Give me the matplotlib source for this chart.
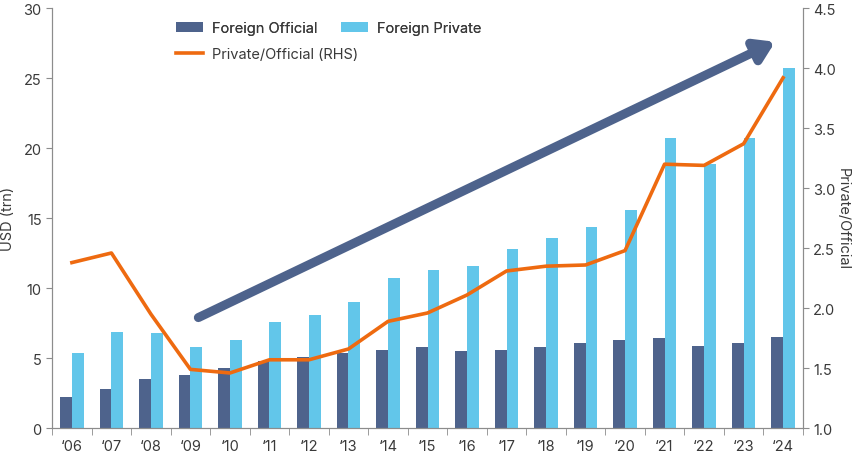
import numpy as np
import matplotlib
matplotlib.use("Agg")
import matplotlib.pyplot as plt

plt.rcParams["font.family"] = ["Inter", "DejaVu Sans"]

years = ["‘06", "‘07", "‘08", "‘09", "‘10", "‘11", "‘12", "‘13", "‘14", "‘15",
         "‘16", "‘17", "‘18", "‘19", "‘20", "‘21", "‘22", "‘23", "‘24"]
official = [2.2, 2.8, 3.5, 3.8, 4.3, 4.8, 5.1, 5.4, 5.6, 5.8,
            5.5, 5.6, 5.8, 6.1, 6.3, 6.45, 5.9, 6.1, 6.5]
private = [5.4, 6.9, 6.8, 5.8, 6.3, 7.6, 8.1, 9.0, 10.7, 11.3,
           11.6, 12.8, 13.6, 14.4, 15.6, 20.7, 18.9, 20.7, 25.7]
ratio = [2.38, 2.46, 1.95, 1.49, 1.46, 1.57, 1.57, 1.66, 1.89, 1.96,
         2.11, 2.31, 2.35, 2.36, 2.48, 3.20, 3.19, 3.37, 3.92]

c_off = "#4E638C"
c_priv = "#62C6EA"
c_line = "#EE6A10"
c_axis = "#8C8C8C"
c_text = "#3A3A3A"

fig = plt.figure(figsize=(8.55, 4.6), dpi=100)
ax = fig.add_axes([0.061, 0.067, 0.878, 0.913])
ax2 = ax.twinx()

x = np.arange(len(years))
w = 0.3
b1 = ax.bar(x - w / 2, official, w, color=c_off, label="Foreign Official", zorder=2)
b2 = ax.bar(x + w / 2, private, w, color=c_priv, label="Foreign Private", zorder=2)
l1, = ax2.plot(x, ratio, color=c_line, lw=2.6, label="Private/Official (RHS)", zorder=3)

ax.set_xlim(-0.5, len(years) - 0.5)
ax.set_ylim(0, 30)
ax.set_yticks(np.arange(0, 31, 5))
ax2.set_ylim(1.0, 4.5)
ax2.set_yticks(np.arange(1.0, 4.51, 0.5))
ax2.set_yticklabels([f"{v:.1f}" for v in np.arange(1.0, 4.51, 0.5)])

ax.set_xticks(x)
ax.set_xticklabels(years)
ax.set_xticks(np.arange(-0.5, len(years), 1.0), minor=True)
ax.tick_params(axis="x", which="major", length=0, pad=8, labelsize=10.5, colors=c_text)
ax.tick_params(axis="x", which="minor", length=5, color=c_axis)
ax.tick_params(axis="y", length=4, color=c_axis, labelsize=10.5, labelcolor=c_text)
ax2.tick_params(axis="y", length=4, color=c_axis, labelsize=10.5, labelcolor=c_text)

for a in (ax, ax2):
    a.spines["top"].set_visible(False)
    for s in ("left", "right", "bottom"):
        a.spines[s].set_color(c_axis)

ax.set_ylabel("USD (trn)", fontsize=10.5, color=c_text, labelpad=6)
ax2.set_ylabel("Private/Official", fontsize=10.5, color=c_text, rotation=270, va="center")
ax2.yaxis.set_label_coords(1.053, 0.5)

# trend arrow
ax.annotate("", xy=(17.8, 27.6), xytext=(3.2, 7.9), zorder=4,
            arrowprops=dict(arrowstyle="-|>,head_length=1.1,head_width=0.7",
                            color=c_off, lw=6.5, shrinkA=0, shrinkB=0))

common = dict(frameon=False, fontsize=10.5, handlelength=1.85, handleheight=0.75,
              handletextpad=0.6, borderpad=0, borderaxespad=0, loc="center left",
              bbox_transform=fig.transFigure)
leg1 = ax.legend([b1, b2], ["Foreign Official", "Foreign Private"], ncol=2,
                 columnspacing=1.65, bbox_to_anchor=(176 / 855, 1 - 29 / 460), **common)
ax.add_artist(leg1)
leg2 = ax2.legend([l1], ["Private/Official (RHS)"],
                  bbox_to_anchor=(176 / 855, 1 - 55 / 460), **common)
for lg in (leg1, leg2):
    for t in lg.get_texts():
        t.set_color(c_text)

fig.savefig("out.png", dpi=100)
